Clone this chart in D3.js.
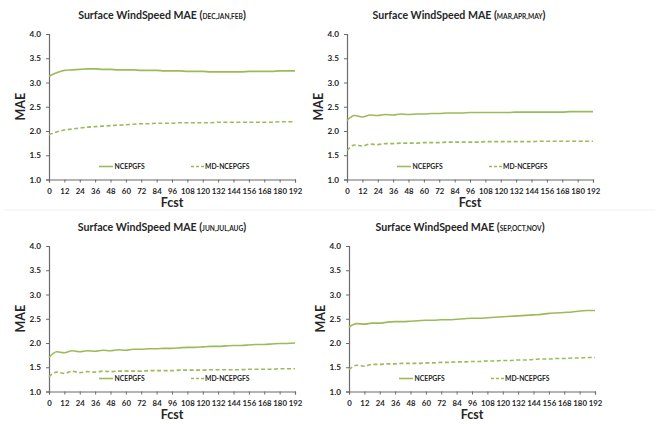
<!DOCTYPE html>
<html>
<head>
<meta charset="utf-8">
<script src="https://cdn.jsdelivr.net/npm/d3@7"></script>
<style>
  html, body { margin: 0; padding: 0; background: #fff; }
  svg { display: block; }
  text { font-family: Lato, "Open Sans", "Liberation Sans", sans-serif; font-weight: bold; fill: #262626; }
</style>
</head>
<body>
<svg id="chart" width="659" height="424"></svg>
<script>
// ---- data ----
const fcstHours = d3.range(0, 193, 6);
const xTickLabels = [0, 12, 24, 36, 48, 60, 72, 84, 96, 108, 120, 132, 144, 156, 168, 180, 192];
const yTickLabels = [1.0, 1.5, 2.0, 2.5, 3.0, 3.5, 4.0];
const seriesNames = ["NCEPGFS", "MD-NCEPGFS"];
const seasonLabels = ["DEC,JAN,FEB", "MAR,APR,MAY", "JUN,JUL,AUG", "SEP,OCT,NOV"];

const djfNcep = [3.13,3.20,3.25,3.26,3.27,3.28,3.28,3.27,3.27,3.26,3.26,3.26,3.25,3.25,3.25,3.24,3.24,3.24,3.23,3.23,3.23,3.22,3.22,3.22,3.22,3.22,3.23,3.23,3.23,3.23,3.24,3.24,3.24];
const djfMd   = [1.92,1.98,2.02,2.04,2.06,2.08,2.09,2.10,2.11,2.12,2.13,2.14,2.15,2.15,2.16,2.16,2.16,2.17,2.17,2.17,2.17,2.17,2.18,2.18,2.18,2.18,2.18,2.18,2.18,2.18,2.19,2.19,2.19];
const mamNcep = [2.22,2.32,2.29,2.33,2.32,2.34,2.33,2.35,2.34,2.35,2.35,2.36,2.36,2.37,2.37,2.37,2.38,2.38,2.38,2.38,2.38,2.38,2.39,2.39,2.39,2.39,2.39,2.39,2.39,2.40,2.40,2.40,2.40];
const mamMd   = [1.60,1.71,1.69,1.73,1.72,1.74,1.74,1.75,1.75,1.75,1.76,1.76,1.76,1.77,1.77,1.77,1.77,1.77,1.78,1.78,1.78,1.78,1.78,1.78,1.78,1.79,1.79,1.79,1.79,1.79,1.79,1.79,1.79];
const jjaNcep = [1.70,1.82,1.80,1.84,1.82,1.84,1.83,1.85,1.84,1.86,1.85,1.87,1.87,1.88,1.88,1.89,1.89,1.90,1.91,1.91,1.92,1.93,1.93,1.94,1.95,1.95,1.96,1.97,1.97,1.98,1.99,1.99,2.00];
const jjaMd   = [1.30,1.40,1.37,1.42,1.39,1.41,1.40,1.42,1.41,1.42,1.42,1.42,1.42,1.43,1.43,1.43,1.43,1.44,1.44,1.44,1.44,1.45,1.45,1.45,1.45,1.45,1.46,1.46,1.46,1.46,1.47,1.47,1.47];
const sonNcep = [2.33,2.40,2.39,2.41,2.41,2.43,2.44,2.44,2.45,2.46,2.47,2.47,2.48,2.48,2.49,2.50,2.51,2.51,2.52,2.53,2.54,2.55,2.56,2.57,2.58,2.59,2.61,2.62,2.63,2.64,2.66,2.67,2.67];
const sonMd   = [1.45,1.54,1.52,1.56,1.56,1.57,1.57,1.58,1.58,1.58,1.59,1.59,1.60,1.60,1.61,1.61,1.62,1.62,1.63,1.63,1.64,1.64,1.65,1.65,1.66,1.67,1.67,1.68,1.68,1.69,1.69,1.70,1.70];

// ---- layout ----
const panels = [
  { season: seasonLabels[0], ncep: djfNcep, md: djfMd, x0: 49,  x1: 295, yTop: 34,  yBot: 179.5, titleX: 162 },
  { season: seasonLabels[1], ncep: mamNcep, md: mamMd, x0: 347, x1: 593, yTop: 34,  yBot: 179.5, titleX: 459 },
  { season: seasonLabels[2], ncep: jjaNcep, md: jjaMd, x0: 49,  x1: 295, yTop: 246, yBot: 391.5, titleX: 162 },
  { season: seasonLabels[3], ncep: sonNcep, md: sonMd, x0: 349, x1: 595, yTop: 246, yBot: 391.5, titleX: 460 }
];
const green = "#9bbb59";
const axisColor = "#6b6b6b";

const svg = d3.select("#chart");
svg.append("rect").attr("width", 659).attr("height", 424).attr("fill", "#fff");
svg.append("line").attr("x1", 4).attr("x2", 655).attr("y1", 210).attr("y2", 210)
  .attr("stroke", "#f0f0f0").attr("stroke-width", 1);

panels.forEach(p => {
  const g = svg.append("g");
  const x = d3.scaleLinear().domain([0, 192]).range([p.x0, p.x1]);
  const y = d3.scaleLinear().domain([1, 4]).range([p.yBot, p.yTop]);

  // title
  const t = g.append("text").attr("x", p.titleX).attr("y", p.yTop - 15.5)
    .attr("text-anchor", "middle").attr("font-size", 10.6);
  t.append("tspan").text("Surface WindSpeed MAE (");
  t.append("tspan").attr("font-size", 6.6).text(p.season);
  t.append("tspan").text(")");

  // y axis
  const ya = g.append("g").attr("transform", `translate(${p.x0},0)`)
    .call(d3.axisLeft(y).tickValues(yTickLabels).tickFormat(d3.format(".1f")).tickSize(3).tickPadding(5));
  ya.select(".domain").attr("stroke", axisColor).attr("stroke-width", 1.2);
  ya.selectAll(".tick line").attr("stroke", axisColor);
  ya.selectAll(".tick text").attr("font-size", 8.2).attr("font-family", "Lato, sans-serif").attr("font-weight", "bold").attr("fill", "#262626");

  // x axis
  const xa = g.append("g").attr("transform", `translate(0,${p.yBot})`)
    .call(d3.axisBottom(x).tickValues(xTickLabels).tickFormat(d3.format("d")).tickSize(3).tickPadding(6));
  xa.select(".domain").attr("stroke", axisColor).attr("stroke-width", 1.2);
  xa.selectAll(".tick line").attr("stroke", axisColor);
  xa.selectAll(".tick text").attr("font-size", 7.8).attr("font-family", "Lato, sans-serif").attr("font-weight", "bold").attr("fill", "#262626");

  // axis titles
  g.append("text").attr("x", (p.x0 + p.x1) / 2).attr("y", p.yBot + 27)
    .attr("text-anchor", "middle").attr("font-size", 12.5).text("Fcst");
  g.append("text").attr("transform", `translate(${p.x0 - 24},${(p.yTop + p.yBot) / 2}) rotate(-90)`)
    .attr("text-anchor", "middle").attr("font-size", 12.5).text("MAE");

  // lines
  const line = d3.line().x((d, i) => x(fcstHours[i])).y(d => y(d)).curve(d3.curveMonotoneX);
  g.append("path").datum(p.ncep).attr("d", line).attr("fill", "none")
    .attr("stroke", green).attr("stroke-width", 1.6);
  g.append("path").datum(p.md).attr("d", line).attr("fill", "none")
    .attr("stroke", green).attr("stroke-width", 1.6).attr("stroke-dasharray", "4,2.5");

  // legend
  const ly = p.yBot - 13;
  g.append("line").attr("x1", p.x0 + 50).attr("x2", p.x0 + 64).attr("y1", ly).attr("y2", ly)
    .attr("stroke", green).attr("stroke-width", 1.6);
  g.append("text").attr("x", p.x0 + 65.5).attr("y", ly + 2.5).attr("font-size", 6.8).text(seriesNames[0]);
  g.append("line").attr("x1", p.x0 + 142).attr("x2", p.x0 + 155).attr("y1", ly).attr("y2", ly)
    .attr("stroke", green).attr("stroke-width", 1.6).attr("stroke-dasharray", "3,2");
  g.append("text").attr("x", p.x0 + 156).attr("y", ly + 2.5).attr("font-size", 6.8).text(seriesNames[1]);
});
</script>
</body>
</html>
